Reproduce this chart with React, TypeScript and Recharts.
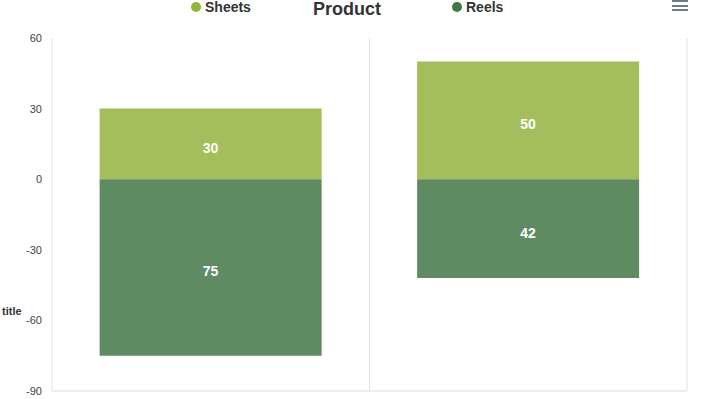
import React from "react";
import { BarChart, Bar, XAxis, YAxis, CartesianGrid, LabelList, Label } from "recharts";

const categories = ["A", "B"];
const sheets = [30, 50];
const reels = [-75, -42];
const yTicks = [-90, -60, -30, 0, 30, 60];

const series = [
  { key: "Sheets", values: sheets, fill: "#a3be5b", dot: "#8fb83b" },
  { key: "Reels", values: reels, fill: "#5f8b63", dot: "#3f7a45" },
];

const chartData = categories.map((c, i) => ({
  name: c,
  Sheets: sheets[i],
  Reels: reels[i],
}));

const font = "'Liberation Sans', Arial, Helvetica, sans-serif";

function TitleLabel(props: any) {
  const vb = props.viewBox || {};
  return (
    <text
      x={2}
      y={vb.y + vb.height * 0.785}
      fontSize={11}
      fontWeight="bold"
      fill="#333"
      fontFamily={font}
    >
      title
    </text>
  );
}

export default function App() {
  return (
    <div style={{ position: "absolute", left: 0, top: 0, width: 707, height: 399, fontFamily: font }}>
      <BarChart
        width={707}
        height={399}
        data={chartData}
        stackOffset="sign"
        barCategoryGap="15%"
        margin={{ top: 38, right: 20, bottom: 0, left: 0 }}
      >
        <CartesianGrid
          horizontal={false}
          stroke="#e0e0e0"
          verticalCoordinatesGenerator={({ offset }: any) => {
            const n = categories.length;
            return Array.from({ length: n + 1 }, (_, i) => offset.left + (offset.width * i) / n);
          }}
        />
        <XAxis dataKey="name" tick={false} tickLine={false} axisLine={{ stroke: "#dddddd" }} height={8} />
        <YAxis
          domain={[-90, 60]}
          ticks={yTicks}
          interval={0}
          width={52}
          axisLine={false}
          tickLine={false}
          tickMargin={4}
          tick={{ fontSize: 11, fill: "#444444", stroke: "none", fontFamily: font }}
        >
          <Label content={<TitleLabel />} />
        </YAxis>
        {series.map((s) => (
          <Bar key={s.key} dataKey={s.key} stackId="a" fill={s.fill} isAnimationActive={false}>
            <LabelList
              dataKey={s.key}
              position="center"
              formatter={(v: any) => Math.abs(Number(v))}
              fill="#ffffff"
              fontSize={14}
              fontWeight="bold"
              fontFamily={font}
              dy={4}
            />
          </Bar>
        ))}
      </BarChart>
      <div style={{ position: "absolute", left: 191, top: 0, display: "flex", alignItems: "center", fontSize: 14, lineHeight: "14px", fontWeight: "bold", color: "#333" }}>
        <span style={{ width: 10, height: 10, borderRadius: 5, background: series[0].dot, marginRight: 4 }} />
        {series[0].key}
      </div>
      <div style={{ position: "absolute", left: 313, top: 0, fontSize: 18, lineHeight: "18px", fontWeight: "bold", color: "#333" }}>
        Product
      </div>
      <div style={{ position: "absolute", left: 452, top: 0, display: "flex", alignItems: "center", fontSize: 14, lineHeight: "14px", fontWeight: "bold", color: "#333" }}>
        <span style={{ width: 10, height: 10, borderRadius: 5, background: series[1].dot, marginRight: 4 }} />
        {series[1].key}
      </div>
      <div style={{ position: "absolute", left: 672, top: 0, width: 16 }}>
        {[0, 1, 2].map((i) => (
          <div key={i} style={{ height: 2, background: "#6e7b8b", marginBottom: i < 2 ? 2.5 : 0 }} />
        ))}
      </div>
    </div>
  );
}
